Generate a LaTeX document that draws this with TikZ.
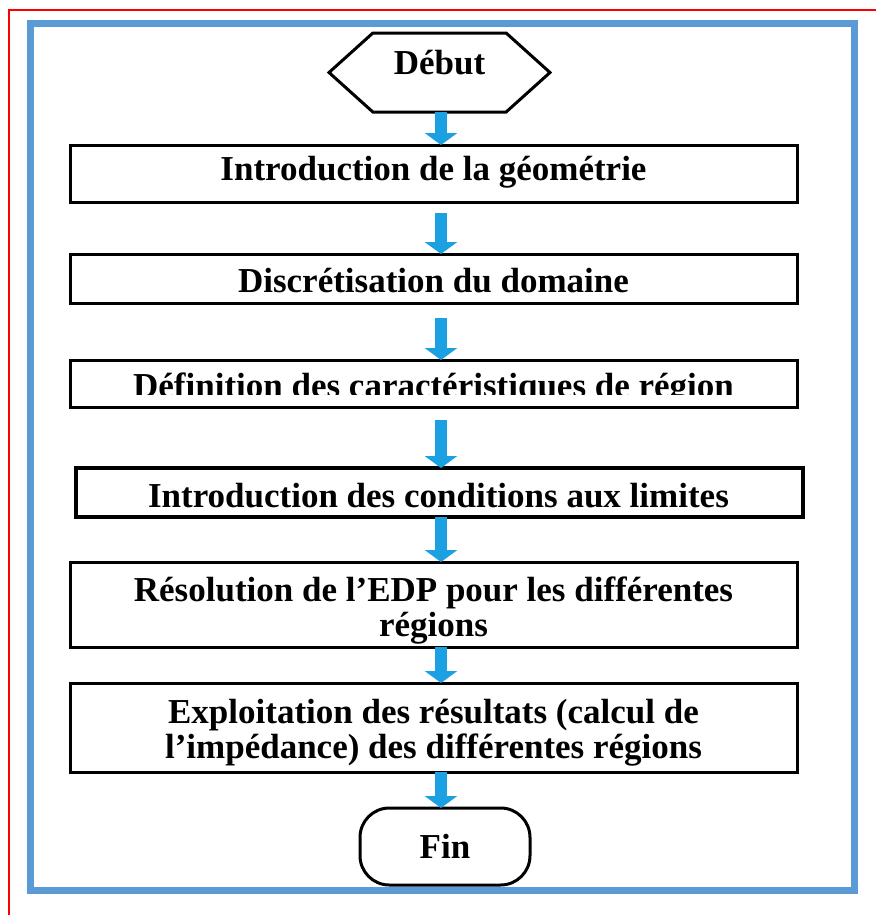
\documentclass[tikz,border=0pt]{standalone}
\usepackage{fontspec}
\setmainfont{Liberation Serif}
\usetikzlibrary{arrows.meta,shapes.symbols,calc}
\definecolor{framebl}{RGB}{91,155,213}
\definecolor{arrbl}{RGB}{27,161,226}
\begin{document}
\begin{tikzpicture}[x=0.75pt,y=-0.75pt,
  txtfont/.style={font=\fontsize{26.25}{26.25}\selectfont\bfseries},
  box/.style={draw=black,line width=2.25pt,fill=white,minimum width=545.25pt,inner sep=0pt,outer sep=0pt},
  lbl/.style={txtfont,inner sep=0pt,align=center},
  flow/.style={arrbl,line width=9pt,-{Triangle[width=24pt,length=9pt]}}]
\useasboundingbox (0,0) rectangle (876,915);
\fill[white] (0,0) rectangle (876,915);
\draw[red,line width=1.1pt] (9,915) -- (9,10) -- (876,10);
\draw[framebl,line width=5.25pt] (30,23) rectangle (854,890);

\node[signal,signal to=east and west,signal pointer angle=84,draw=black,line width=2.25pt,fill=white,
      minimum width=165.75pt,minimum height=59.25pt,inner sep=0pt,outer sep=0pt,txtfont,
      text height=18pt,text depth=15pt] (hex) at (439.5,72.5) {Début};

\node[box,minimum height=42.75pt] (b1) at (433.5,173.5) {};
\node[lbl] (t1) at ($(b1.center)+(0,-1)$) {Introduction de la géométrie};
\node[box,minimum height=36.75pt] (b2) at (433.5,278.5) {};
\node[lbl] (t2) at ($(b2.center)+(0,2)$) {Discrétisation du domaine};
\node[box,minimum height=35.25pt] (b3) at (433.5,383.5) {};
\coordinate (clipy) at (0,394);
\begin{scope}
  \clip (b3.north west) rectangle (b3.east |- clipy);
  \node[lbl] (t3) at (433.5,389) {Définition des caractéristiques de région};
\end{scope}
\node[box,line width=3.4pt,minimum height=36.75pt] (b4) at (439.5,492.5) {};
\node[lbl] (t4) at ($(b4.center)+(-1,3)$) {Introduction des conditions aux limites};
\node[box,minimum height=63.75pt] (b5) at (433.5,604.5) {};
\node[lbl] (t5) at ($(b5.center)+(0,6)$) {Résolution de l’EDP pour les différentes\\régions};
\node[box,minimum height=66.75pt] (b6) at (433.5,727.5) {};
\node[lbl] (t6) at ($(b6.center)+(0,5)$) {Exploitation des résultats (calcul de\\l’impédance) des différentes régions};
\node[draw=black,line width=2.25pt,fill=white,rounded corners=22pt,minimum width=127.5pt,minimum height=57.75pt,
      inner sep=0pt,outer sep=0pt,txtfont] (fin) at (445,846.5) {Fin};

\coordinate (ax) at (441,0);
\draw[flow] (hex.south -| ax) -- (b1.north -| ax);
\draw[flow,shorten <=8.25pt] (b1.south -| ax) -- (b2.north -| ax);
\draw[flow,shorten <=11.25pt] (b2.south -| ax) -- (b3.north -| ax);
\draw[flow,shorten <=9.75pt] (b3.south -| ax) -- (b4.north -| ax);
\draw[flow] (b4.south -| ax) -- (b5.north -| ax);
\draw[flow] (b5.south -| ax) -- (b6.north -| ax);
\draw[flow] (b6.south -| ax) -- (fin.north -| ax);
\end{tikzpicture}
\end{document}
